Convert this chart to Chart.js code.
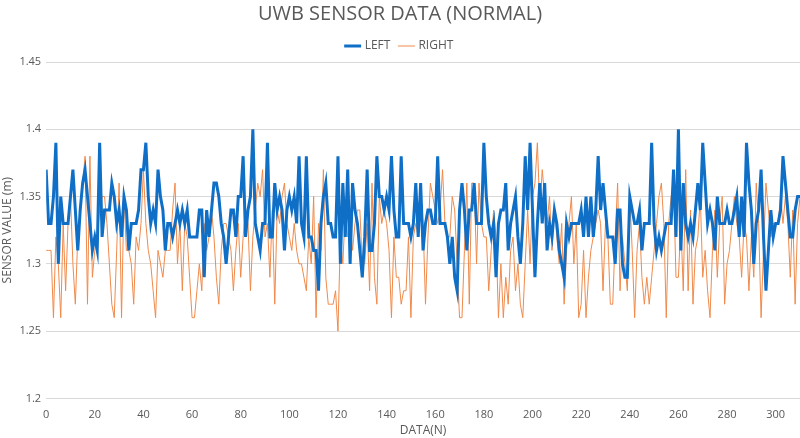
<!DOCTYPE html>
<html lang="en">
<head>
  <meta charset="UTF-8">
  <title>UWB Sensor Data</title>
  <script src="https://cdn.jsdelivr.net/npm/chart.js"></script>
  <style>
    html, body { margin: 0; padding: 0; background: #fff; }
    #box { width: 800px; height: 438px; }
  </style>
</head>
<body>
  <div id="box"><canvas id="grafico"></canvas></div>
<script>
  // valores (indice 0..310)
  var leftValues = [
    1.37,1.33,1.33,1.35,1.39,1.30,1.35,1.33,1.33,1.33,1.35,1.37,1.34,1.31,1.34,1.36,1.37,1.35,1.33,1.31,1.32,1.31,1.39,1.32,
    1.34,1.34,1.34,1.36,1.35,1.33,1.34,1.32,1.35,1.34,1.31,1.33,1.33,1.33,1.34,1.37,1.37,1.39,1.35,1.33,1.34,1.33,1.37,1.35,1.34,1.31,1.33,
    1.33,1.32,1.33,1.34,1.33,1.34,1.33,1.34,1.32,1.32,1.32,1.32,1.34,1.34,1.29,1.34,1.32,1.34,1.36,1.36,1.35,1.33,1.32,1.30,1.32,1.34,
    1.34,1.32,1.35,1.35,1.38,1.32,1.34,1.35,1.40,1.33,1.32,1.31,1.33,1.33,1.39,1.32,1.32,1.36,1.34,1.35,1.34,1.31,1.34,1.35,1.34,1.35,
    1.33,1.38,1.33,1.32,1.38,1.32,1.32,1.31,1.31,1.28,1.33,1.35,1.36,1.33,1.33,1.32,1.32,1.38,1.30,1.36,1.32,1.37,1.30,1.36,1.34,1.33,
    1.31,1.29,1.32,1.37,1.31,1.31,1.33,1.38,1.35,1.35,1.34,1.35,1.34,1.38,1.34,1.32,1.32,1.38,1.33,1.33,1.33,1.32,1.33,1.36,1.32,1.36,
    1.31,1.33,1.34,1.34,1.33,1.33,1.38,1.33,1.33,1.33,1.32,1.30,1.32,1.29,1.28,1.34,1.36,1.34,1.31,1.34,1.34,1.36,1.33,1.33,1.33,1.39,
    1.35,1.33,1.32,1.33,1.29,1.33,1.34,1.34,1.36,1.31,1.33,1.34,1.35,1.32,1.30,1.33,1.38,1.34,1.39,1.34,1.29,1.33,1.36,1.33,1.36,1.31,
    1.33,1.32,1.34,1.33,1.31,1.30,1.29,1.33,1.32,1.33,1.33,1.33,1.33,1.34,1.32,1.35,1.32,1.35,1.32,1.34,1.38,1.34,1.36,1.34,1.32,1.32,
    1.32,1.30,1.34,1.34,1.30,1.29,1.29,1.35,1.34,1.33,1.33,1.34,1.31,1.33,1.33,1.33,1.39,1.33,1.31,1.32,1.31,1.32,1.33,1.33,1.33,1.37,
    1.32,1.40,1.31,1.36,1.33,1.32,1.33,1.32,1.34,1.36,1.34,1.39,1.36,1.33,1.34,1.33,1.31,1.35,1.33,1.33,1.33,1.34,1.33,1.33,1.34,1.35,
    1.32,1.35,1.32,1.39,1.36,1.34,1.30,1.33,1.34,1.37,1.32,1.28,1.31,1.34,1.32,1.33,1.33,1.34,1.38,1.36,1.34,1.32,1.32,1.34,1.35,1.35
  ];
  var rightValues = [
    1.31,1.31,1.31,1.26,1.32,1.30,1.26,1.33,1.28,1.33,1.35,1.30,1.27,1.32,1.34,1.36,1.38,1.27,1.38,1.29,1.31,1.32,1.34,1.35,
    1.35,1.33,1.30,1.27,1.26,1.31,1.36,1.26,1.35,1.31,1.31,1.30,1.27,1.32,1.31,1.33,1.37,1.33,1.31,1.30,1.28,1.26,1.31,1.30,1.29,1.31,1.31,
    1.31,1.34,1.36,1.30,1.33,1.28,1.33,1.32,1.29,1.26,1.26,1.28,1.30,1.28,1.33,1.31,1.32,1.34,1.32,1.29,1.27,1.31,1.33,1.33,1.32,1.31,
    1.28,1.31,1.33,1.29,1.32,1.34,1.33,1.28,1.32,1.34,1.36,1.35,1.37,1.32,1.33,1.29,1.34,1.27,1.34,1.33,1.35,1.36,1.33,1.32,1.31,1.33,
    1.31,1.30,1.30,1.29,1.28,1.32,1.30,1.35,1.26,1.33,1.31,1.37,1.29,1.27,1.27,1.27,1.28,1.25,1.32,1.30,1.34,1.32,1.33,1.31,1.33,1.34,
    1.34,1.30,1.30,1.33,1.28,1.36,1.29,1.27,1.35,1.33,1.34,1.33,1.31,1.26,1.32,1.29,1.29,1.27,1.28,1.28,1.32,1.26,1.32,1.33,1.32,1.35,
    1.33,1.27,1.32,1.36,1.35,1.34,1.33,1.34,1.37,1.33,1.32,1.32,1.35,1.34,1.30,1.26,1.26,1.31,1.36,1.27,1.36,1.36,1.30,1.36,1.33,1.32,
    1.32,1.28,1.31,1.34,1.32,1.26,1.30,1.26,1.29,1.27,1.31,1.32,1.28,1.30,1.27,1.26,1.30,1.34,1.30,1.35,1.36,1.39,1.34,1.37,1.35,1.33,
    1.35,1.31,1.34,1.32,1.30,1.33,1.27,1.31,1.33,1.35,1.30,1.33,1.26,1.27,1.31,1.26,1.29,1.31,1.32,1.33,1.34,1.33,1.28,1.33,1.32,1.27,
    1.27,1.32,1.36,1.28,1.32,1.30,1.28,1.35,1.31,1.26,1.31,1.33,1.29,1.27,1.29,1.27,1.29,1.31,1.33,1.35,1.36,1.33,1.26,1.33,1.35,1.36,
    1.29,1.29,1.33,1.28,1.37,1.28,1.34,1.27,1.31,1.32,1.35,1.29,1.31,1.28,1.26,1.31,1.34,1.29,1.33,1.35,1.27,1.30,1.31,1.33,1.35,1.33,
    1.32,1.29,1.33,1.32,1.28,1.32,1.29,1.36,1.33,1.26,1.31,1.36,1.34,1.32,1.33,1.33,1.33,1.35,1.33,1.35,1.33,1.29,1.34,1.27,1.33,1.35
  ];
  var seriesNames = ['LEFT', 'RIGHT'];
  var xTicks = [0, 20, 40, 60, 80, 100, 120, 140, 160, 180, 200, 220, 240, 260, 280, 300];
  var yTicks = [1.2, 1.25, 1.3, 1.35, 1.4, 1.45];

  // monta os pontos {x, y} a partir do indice
  function pontos(lista) {
    var out = [];
    for (var i = 0; i < lista.length; i++) {
      out.push({ x: i, y: lista[i] });
    }
    return out;
  }

  var cinza = '#595959';
  Chart.defaults.font.family = "'Open Sans', 'Noto Sans', sans-serif";
  Chart.defaults.color = cinza;

  var ctx = document.getElementById('grafico').getContext('2d');
  var myChart = new Chart(ctx, {
    type: 'line',
    data: {
      datasets: [{
        label: seriesNames[0],
        data: pontos(leftValues),
        borderColor: '#0F6FC6',
        backgroundColor: '#0F6FC6',
        borderWidth: 3,
        pointRadius: 0,
        tension: 0
      }, {
        label: seriesNames[1],
        data: pontos(rightValues),
        borderColor: '#F08A4B',
        backgroundColor: '#F08A4B',
        borderWidth: 1,
        pointRadius: 0,
        tension: 0
      }]
    },
    options: {
      responsive: true,
      maintainAspectRatio: false,
      animation: false,
      layout: { padding: { left: 0, right: 0, top: 2, bottom: 0 } },
      plugins: {
        title: {
          display: true,
          text: 'UWB SENSOR DATA (NORMAL)',
          font: { size: 20, weight: 'normal' },
          color: cinza,
          padding: { top: 0, bottom: 4 }
        },
        legend: {
          labels: {
            usePointStyle: true,
            pointStyle: 'line',
            boxWidth: 22,
            padding: 10,
            font: { size: 12 },
            color: cinza
          }
        },
        tooltip: { enabled: false }
      },
      scales: {
        x: {
          type: 'linear',
          min: 0,
          max: 310,
          afterBuildTicks: function (axis) {
            axis.ticks = xTicks.map(function (v) { return { value: v }; });
          },
          ticks: { font: { size: 11 }, color: cinza, padding: 2 },
          grid: { display: false },
          border: { display: false },
          title: { display: true, text: 'DATA(N)', font: { size: 12 }, color: cinza, padding: 0 }
        },
        y: {
          min: 1.2,
          max: 1.45,
          afterBuildTicks: function (axis) {
            axis.ticks = yTicks.map(function (v) { return { value: v }; });
          },
          ticks: {
            font: { size: 11 },
            color: cinza,
            padding: 5,
            callback: function (v) { return String(Math.round(v * 100) / 100); }
          },
          grid: { color: '#D9D9D9', drawTicks: false },
          border: { display: false },
          title: { display: true, text: 'SENSOR VALUE (m)', font: { size: 12 }, color: cinza, padding: 0 }
        }
      }
    }
  });
</script>
</body>
</html>
